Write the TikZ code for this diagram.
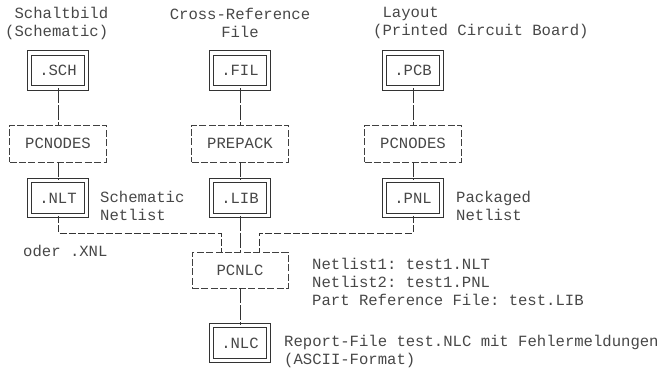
\documentclass[tikz,border=0pt]{standalone}
\usepackage{fontspec}
\setmainfont{Liberation Mono}
\frenchspacing
\tikzset{
  filebox/.style={draw=black!80, double, double distance=3.6pt, line width=0.8pt,
    minimum width=57pt, minimum height=35pt, inner sep=0pt},
  progbox/.style={draw=black!75, dash pattern=on 7pt off 2.4pt, line width=0.8pt,
    minimum width=97pt, minimum height=37pt, inner sep=0pt},
  link/.style={draw=black!80, line width=0.8pt, dash pattern=on 15pt off 2pt},
  bus/.style={draw=black!80, line width=0.8pt, dash pattern=on 7pt off 2.3pt},
  lbl/.style={align=left, anchor=west, inner sep=0pt}
}
\begin{document}
\begin{tikzpicture}[x=1pt, y=-1pt, text=black!72, font=\fontsize{15.6pt}{18pt}\selectfont]
\useasboundingbox (0,0) rectangle (669,367);
\node[lbl] (tsch) at (5,23) {\ Schaltbild\\(Schematic)};
\node[align=center, inner sep=0pt] (tfil) at (240,23) {Cross-Reference\\File};
\node[lbl] (tpcb) at (373,23) {\ Layout\\(Printed Circuit Board)};
%
\node[filebox] (sch) at (58,70.5) {.SCH\ };
\node[filebox] (fil) at (240,70.5) {.FIL\ };
\node[filebox] (pcb) at (413,70.5) {.PCB\ };
%
\node[progbox] (pcn1) at (58,143.5) {PCNODES};
\node[progbox] (prep) at (240,143.5) {PREPACK};
\node[progbox] (pcn2) at (413,143.5) {PCNODES};
%
\node[filebox] (nlt) at (58,198) {.NLT\ };
\node[filebox] (lib) at (240,198) {.LIB\ };
\node[filebox] (pnl) at (413,198) {.PNL\ };
\node[lbl] (tnlt) at (100,206) {Schematic\\Netlist};
\node[lbl] (tpnl) at (456,206) {Packaged\\Netlist};
\node[lbl] (txnl) at (23,251) {oder .XNL};
%
\node[progbox, minimum width=96pt, minimum height=36pt] (pcnlc) at (240,270) {PCNLC};
\node[lbl] (tpcnlc) at (312,282) {Netlist1: test1.NLT\\Netlist2: test1.PNL\\Part Reference File: test.LIB};
%
\node[filebox] (nlc) at (240,343) {.NLC\ };
\node[lbl] (tnlc) at (284,351) {Report-File test.NLC mit Fehlermeldungen\\(ASCII-Format)};
%
\coordinate (busl) at (221,233);
\coordinate (busr) at (259,233);
%
\draw[link] (sch) -- (pcn1);
\draw[link] (pcn1) -- (nlt);
\draw[link] (fil) -- (prep);
\draw[link] (prep) -- (lib);
\draw[link] (pcb) -- (pcn2);
\draw[link] (pcn2) -- (pnl);
\draw[link] (lib) -- (pcnlc);
\draw[link] (pcnlc) -- (nlc);
%
\draw[bus] (nlt.south) |- (busl) -- (busl |- pcnlc.north);
\draw[bus] (pnl.south) |- (busr) -- (busr |- pcnlc.north);
\end{tikzpicture}
\end{document}
